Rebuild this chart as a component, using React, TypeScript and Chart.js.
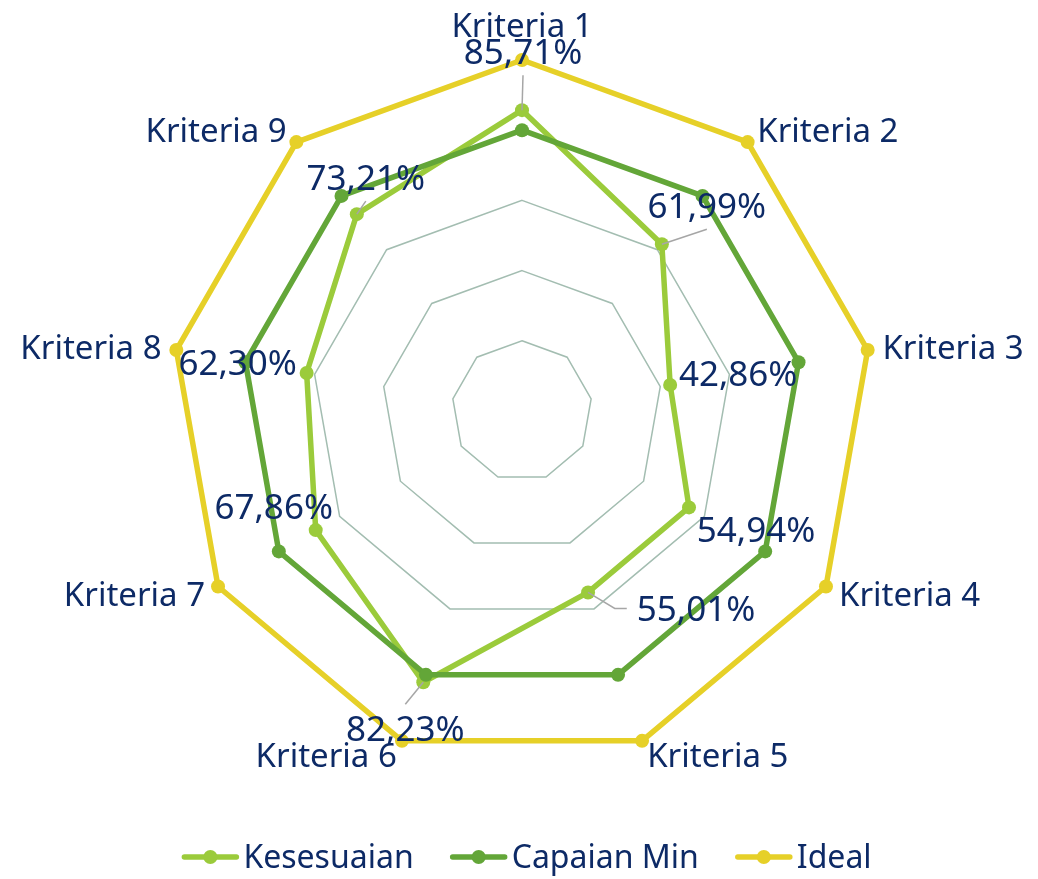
import React, { useEffect, useRef } from "react";
import { Chart, registerables } from "chart.js";

Chart.register(...registerables);

// ---- data ----
const categories = [
  "Kriteria 1",
  "Kriteria 2",
  "Kriteria 3",
  "Kriteria 4",
  "Kriteria 5",
  "Kriteria 6",
  "Kriteria 7",
  "Kriteria 8",
  "Kriteria 9",
];
const kesesuaian = [0.8571, 0.6199, 0.4286, 0.5494, 0.5501, 0.8223, 0.6786, 0.623, 0.7321];
const capaianMin = [0.8, 0.8, 0.8, 0.8, 0.8, 0.8, 0.8, 0.8, 0.8];
const ideal = [1, 1, 1, 1, 1, 1, 1, 1, 1];
const seriesNames = ["Kesesuaian", "Capaian Min", "Ideal"];
const scaleMin = 0;
const scaleMax = 1;
const scaleStep = 0.2;

// ---- styles / label layout ----
const COLORS = ["#9BCB3B", "#63A638", "#E6D028"];
const TEXT_COLOR = "#0D2A66";
const GRID_COLOR = "#A3BDB1";
const LEADER_COLOR = "#A6A6A6";
const FONT_FAMILY = '"Noto Sans", "DejaVu Sans", sans-serif';
const CAT_FONT_SIZE = 33;
const VAL_FONT_SIZE = 35;
const LEGEND_FONT_SIZE = 32;
// label centre offsets (px) from each Kesesuaian point
const labelOffsets: [number, number][] = [
  [1, -59],
  [45, -39],
  [68, -11],
  [67, 22],
  [108, 16],
  [-18, 46],
  [-42, -24],
  [-69, -11],
  [9, -37],
];
const leaderModes = ["v", "v", "none", "none", "h", "v", "none", "none", "v"];

const fmtPct = (v: number) => (v * 100).toFixed(2).replace(".", ",") + "%";

const overlayPlugin = {
  id: "overlay",
  afterDatasetsDraw(chart: any) {
    const ctx: CanvasRenderingContext2D = chart.ctx;
    const scale = chart.scales.r;
    const meta = chart.getDatasetMeta(0);
    ctx.save();

    // value labels + leader lines
    ctx.font = `${VAL_FONT_SIZE}px ${FONT_FAMILY}`;
    const digitH = VAL_FONT_SIZE * 0.714;
    kesesuaian.forEach((v, i) => {
      const pt = meta.data[i];
      const cx = pt.x + labelOffsets[i][0];
      const cy = pt.y + labelOffsets[i][1];
      const text = fmtPct(v);
      const w = ctx.measureText(text).width;
      const mode = leaderModes[i];
      ctx.strokeStyle = LEADER_COLOR;
      ctx.lineWidth = 1.5;
      if (mode === "v") {
        const ey = cy + (cy < pt.y ? 24 : -24);
        ctx.beginPath();
        ctx.moveTo(pt.x, pt.y);
        ctx.lineTo(cx, ey);
        ctx.stroke();
      } else if (mode === "h") {
        const left = cx - w / 2;
        ctx.beginPath();
        ctx.moveTo(pt.x, pt.y);
        ctx.lineTo(left - 22, cy);
        ctx.lineTo(left - 10, cy);
        ctx.stroke();
      }
      ctx.fillStyle = TEXT_COLOR;
      ctx.textAlign = "center";
      ctx.textBaseline = "alphabetic";
      ctx.fillText(text, cx, cy + digitH / 2);
    });

    // category labels
    ctx.font = `${CAT_FONT_SIZE}px ${FONT_FAMILY}`;
    const capH = CAT_FONT_SIZE * 0.714;
    categories.forEach((label, i) => {
      const a = scale.getIndexAngle(i) - Math.PI / 2;
      const cos = Math.cos(a);
      const p = scale.getPointPosition(i, scale.drawingArea + 15);
      let y = p.y;
      if (Math.abs(cos) < 0.1) {
        ctx.textAlign = "center";
        y = p.y - 20;
      } else if (cos > 0) {
        ctx.textAlign = "left";
      } else {
        ctx.textAlign = "right";
      }
      ctx.fillStyle = TEXT_COLOR;
      ctx.textBaseline = "alphabetic";
      ctx.fillText(label, p.x, y + capH / 2);
    });
    ctx.restore();
  },
  afterDraw(chart: any) {
    const ctx: CanvasRenderingContext2D = chart.ctx;
    ctx.save();
    ctx.font = `${LEGEND_FONT_SIZE}px ${FONT_FAMILY}`;
    const markerW = 56;
    const textGap = 5;
    const itemGap = 37;
    const widths = seriesNames.map((n) => ctx.measureText(n).width);
    const total =
      widths.reduce((s, w) => s + w + markerW + textGap, 0) + itemGap * (seriesNames.length - 1);
    const centerX = (chart.chartArea.left + chart.chartArea.right) / 2 + 5;
    const yMid = 857;
    let x = centerX - total / 2;
    seriesNames.forEach((name, i) => {
      ctx.strokeStyle = COLORS[i];
      ctx.lineWidth = 5.5;
      ctx.lineCap = "round";
      ctx.beginPath();
      ctx.moveTo(x + 2, yMid);
      ctx.lineTo(x + markerW - 2, yMid);
      ctx.stroke();
      ctx.fillStyle = COLORS[i];
      ctx.beginPath();
      ctx.arc(x + markerW / 2, yMid, 7, 0, Math.PI * 2);
      ctx.fill();
      ctx.fillStyle = TEXT_COLOR;
      ctx.textAlign = "left";
      ctx.textBaseline = "alphabetic";
      ctx.fillText(name, x + markerW + textGap, yMid + (LEGEND_FONT_SIZE * 0.714) / 2);
      x += markerW + textGap + widths[i] + itemGap;
    });
    ctx.restore();
  },
};

export default function App() {
  const canvasRef = useRef<HTMLCanvasElement | null>(null);

  useEffect(() => {
    if (!canvasRef.current) return;
    const seriesData = [kesesuaian, capaianMin, ideal];
    const chart = new Chart(canvasRef.current, {
      type: "radar",
      data: {
        labels: categories,
        datasets: seriesNames.map((name, i) => ({
          label: name,
          data: seriesData[i],
          borderColor: COLORS[i],
          backgroundColor: COLORS[i],
          pointBackgroundColor: COLORS[i],
          pointBorderColor: COLORS[i],
          pointBorderWidth: 0,
          pointRadius: 7,
          pointHoverRadius: 7,
          borderWidth: 5.5,
          borderJoinStyle: "round" as const,
          fill: false,
          order: 3 - i,
        })),
      },
      options: {
        animation: false,
        responsive: true,
        maintainAspectRatio: false,
        devicePixelRatio: 1,
        layout: { padding: { left: 171, right: 165, top: 60, bottom: 117 } },
        plugins: {
          legend: { display: false },
          tooltip: { enabled: false },
        },
        scales: {
          r: {
            min: scaleMin,
            max: scaleMax,
            ticks: { stepSize: scaleStep, display: false },
            grid: { color: GRID_COLOR, lineWidth: 1.5 },
            angleLines: { display: false },
            pointLabels: { display: false },
          },
        },
      },
      plugins: [overlayPlugin],
    });
    return () => chart.destroy();
  }, []);

  return (
    <div style={{ position: "absolute", left: 0, top: 0, width: 1038, height: 879, background: "#fff" }}>
      <canvas ref={canvasRef} />
    </div>
  );
}
